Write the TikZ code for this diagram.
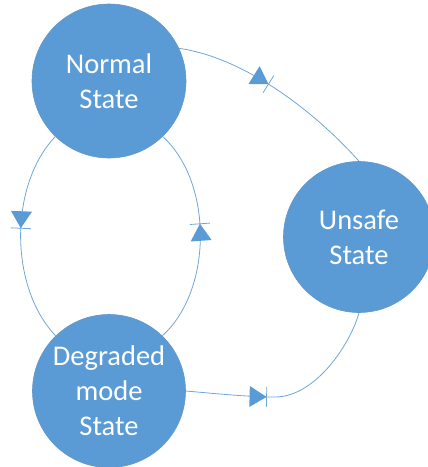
\documentclass[tikz,border=0pt]{standalone}
\usepackage{fontspec}
\setmainfont{Carlito}
\usetikzlibrary{decorations.markings}
\definecolor{stateblue}{HTML}{5B9BD5}
\definecolor{edgeblue}{HTML}{6FA6DA}
\tikzset{
  statenode/.style={circle, fill=stateblue, draw=stateblue!85!gray, line width=0.6pt,
    inner sep=0pt, text=white, align=center,
    font=\fontsize{28.5}{35}\selectfont},
  flow/.style={draw=edgeblue, line width=0.8pt},
  % filled triangle ending on a short cross bar, placed at a distance along the path
  diodemark/.style={postaction={decorate, decoration={markings,
    mark=at position #1 with {
      \fill[stateblue] (-17pt,-10.5pt) -- (0pt,0pt) -- (-17pt,10.5pt) -- cycle;
      \draw[edgeblue, line width=0.8pt] (0pt,-10pt) -- (0pt,10pt);
    }}}}
}
\begin{document}
\begin{tikzpicture}[x=1pt, y=-1pt]
  \useasboundingbox (0,0) rectangle (428,467);

  % states
  \node[statenode, minimum size=154pt] (normal) at (109,81) {Normal\\State};
  \node[statenode, minimum size=151pt] (unsafe) at (359,237) {Unsafe\\State};
  \node[statenode, minimum size=153pt] (degraded) at (109,391) {Degraded\\mode\\State};

  % transitions
  \path[flow, diodemark=97pt] (normal.25) .. controls (246,58) and (316,113) .. (unsafe.90);
  \path[flow, diodemark=100pt] (normal.226) .. controls (9,185) and (9,287) .. (degraded.134);
  \path[flow, diodemark=122pt] (degraded.46) .. controls (213,290) and (213,182) .. (normal.314);
  \path[flow, diodemark=81pt] (degraded.0) .. controls (220,394) and (250,397) .. (275,397)
    .. controls (315,397) and (350,345) .. (unsafe.270);
\end{tikzpicture}
\end{document}
